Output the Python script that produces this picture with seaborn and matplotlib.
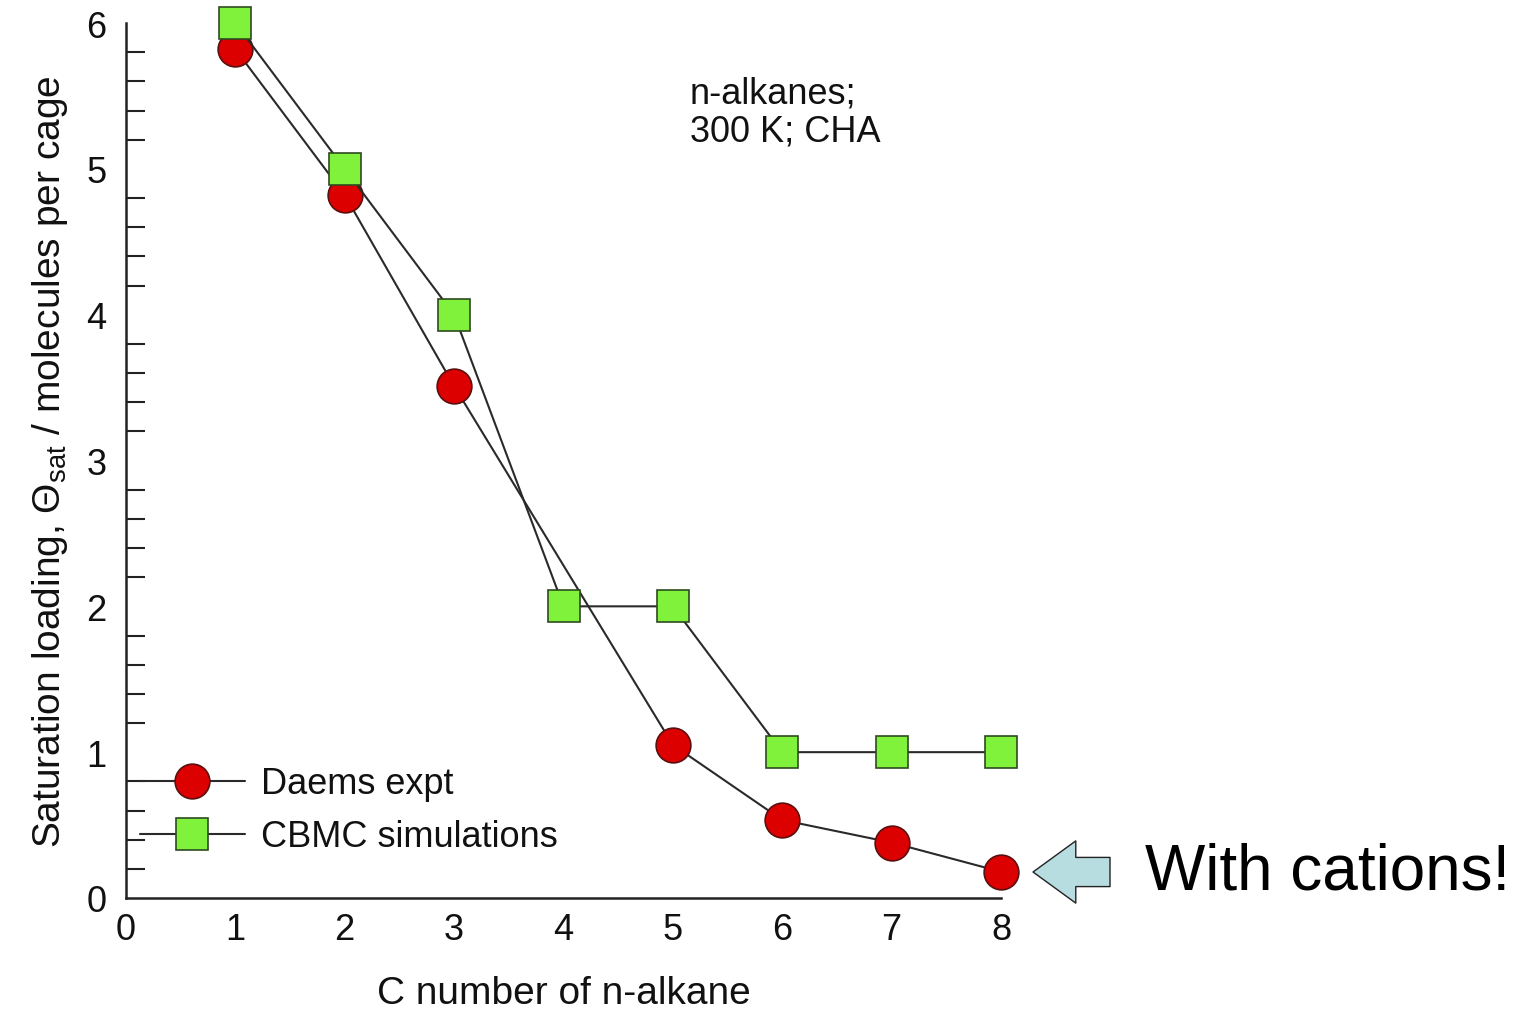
import matplotlib
matplotlib.use("Agg")
import matplotlib.pyplot as plt
import seaborn as sns
import numpy as np
from matplotlib.lines import Line2D

sns.set_theme(style="white")
plt.rcParams['font.family'] = ['Liberation Sans', 'DejaVu Sans']
plt.rcParams['mathtext.fontset'] = 'custom'
plt.rcParams['mathtext.rm'] = 'Liberation Sans'
plt.rcParams['mathtext.it'] = 'Liberation Sans'

daems_x = [1, 2, 3, 5, 6, 7, 8]
daems_y = [5.82, 4.82, 3.51, 1.05, 0.535, 0.38, 0.18]
cbmc_x = [1, 2, 3, 4, 5, 6, 7, 8]
cbmc_y = [6, 5, 4, 2, 2, 1, 1, 1]
x_ticks = [0, 1, 2, 3, 4, 5, 6, 7, 8]
y_ticks = [0, 1, 2, 3, 4, 5, 6]

W, H = 1527, 1012
fig = plt.figure(figsize=(W / 100, H / 100), dpi=100)
ax = fig.add_axes([126 / W, 1 - 899 / H, (1001 - 126) / W, (899 - 24) / H])

line_c = '#2a2a2a'
red = '#dd0000'
green = '#80f23c'
FS = 26
FSL = 28

sns.lineplot(x=daems_x, y=daems_y, ax=ax, color=line_c, lw=1.5, marker='o',
             markersize=25, markerfacecolor=red, markeredgecolor='#5a1010',
             markeredgewidth=1.2, clip_on=False, zorder=3)
sns.lineplot(x=cbmc_x, y=cbmc_y, ax=ax, color=line_c, lw=1.5, marker='s',
             markersize=22.5, markerfacecolor=green, markeredgecolor='#2e4a20',
             markeredgewidth=1.2, clip_on=False, zorder=4)

ax.set_xlim(0, 8)
ax.set_ylim(0, 6)
ax.set_xticks(x_ticks)
ax.set_yticks(y_ticks)
ax.set_yticks(np.arange(0, 6.01, 0.2), minor=True)
for s in ['top', 'right']:
    ax.spines[s].set_visible(False)
for s in ['left', 'bottom']:
    ax.spines[s].set_color('#222222')
    ax.spines[s].set_linewidth(1.8)
ax.tick_params(axis='both', which='major', direction='in', length=14, width=1.5,
               colors='#222222', labelsize=FS, labelcolor='#111111')
ax.tick_params(axis='y', which='minor', direction='in', length=14, width=1.5,
               colors='#222222', left=True)
ax.tick_params(axis='x', pad=10)
ax.tick_params(axis='y', pad=14)

ax.set_xlabel('C number of n-alkane', fontsize=FSL, color='#111111', labelpad=20)
ax.set_ylabel(r'Saturation loading, $\Theta_{\rm sat}$ / molecules per cage',
              fontsize=FSL, color='#111111', labelpad=12)

ax.text(690 / W, 1 - 76 / H, 'n-alkanes;\n300 K; CHA', transform=fig.transFigure,
        fontsize=FS, color='#111111', va='top', ha='left', linespacing=1.12)

handles = [
    Line2D([], [], color=line_c, lw=1.5, marker='o', markersize=25,
           markerfacecolor=red, markeredgecolor='#5a1010', markeredgewidth=1.2),
    Line2D([], [], color=line_c, lw=1.5, marker='s', markersize=22.5,
           markerfacecolor=green, markeredgecolor='#2e4a20', markeredgewidth=1.2),
]
leg = ax.legend(handles, ['Daems expt', 'CBMC simulations'], loc='lower left',
                bbox_to_anchor=(14 / 875, 0.05), frameon=False, fontsize=FS,
                handlelength=2.9, handletextpad=0.45, labelspacing=0.5,
                borderaxespad=0, borderpad=0)
for t in leg.get_texts():
    t.set_color('#111111')

ax.annotate('', xy=(1033 / W, 1 - 873 / H), xytext=(1110 / W, 1 - 873 / H),
            xycoords='figure fraction', textcoords='figure fraction',
            arrowprops=dict(arrowstyle='simple,head_length=1.1,head_width=1.6,tail_width=0.75',
                            fc='#b8dde0', ec='#222222', lw=1.0,
                            shrinkA=0, shrinkB=0, mutation_scale=28))
fig.text(1145 / W, 1 - 873 / H, 'With cations!', fontsize=46, color='black',
         va='center', ha='left')

fig.savefig('out.png', dpi=100)
